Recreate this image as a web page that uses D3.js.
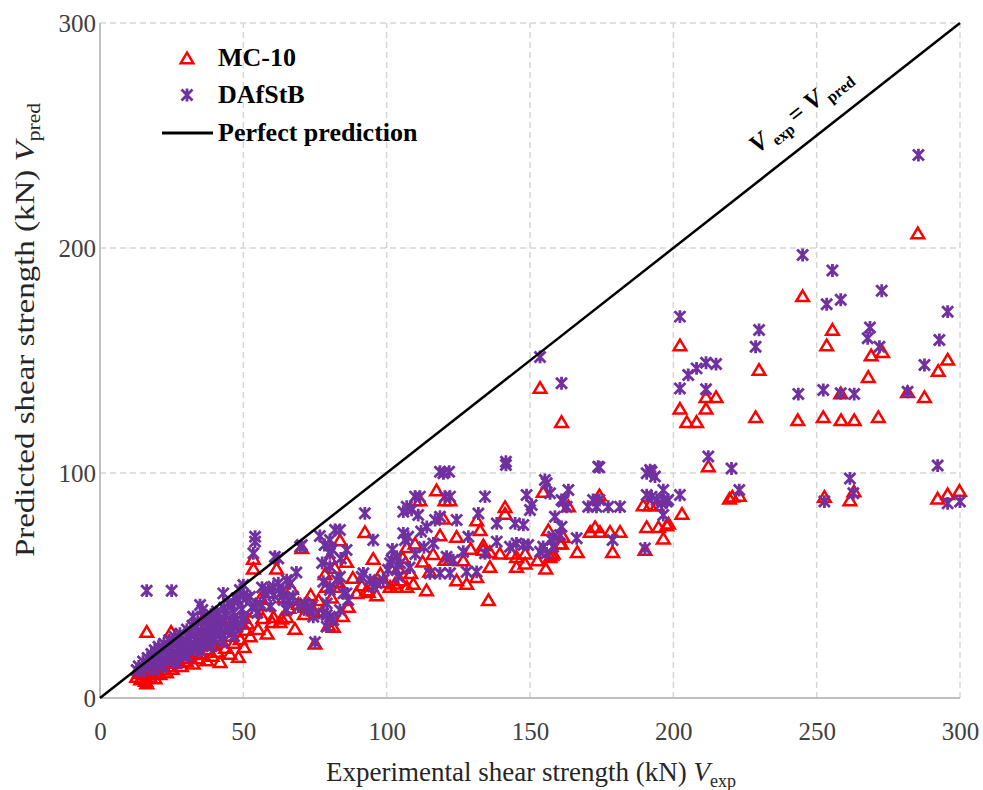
<!DOCTYPE html>
<html>
<head>
<meta charset="utf-8">
<script src="https://cdn.jsdelivr.net/npm/d3@7"></script>
<style>
  body { margin: 0; background: #fff; }
  text { font-family: "Liberation Serif", "Times New Roman", serif; }
</style>
</head>
<body>
<svg id="chart" width="983" height="790"></svg>
<script>
// Shear strength predictions [V_exp, V_pred] in kN
const mc10 = [
  [12.8,9.5],[13.6,11.2],[14.2,8.4],[15.1,10.6],[15.8,7.8],[16.3,6.6],[16.3,29.5],[16.9,12.1],[17.4,9.6],[18.1,11.4],
  [18.6,13.5],[19.2,8.9],[19.8,12.4],[20.3,14.6],[20.9,10.7],[21.5,15.4],[22.1,12.8],[22.6,16.3],[23.2,11.5],[23.8,14.2],
  [24.3,17.5],[24.8,29.5],[25.2,13.1],[25.7,15.8],[26.3,18.6],[26.7,28.0],[27.3,16.1],[27.8,20.2],[28.4,14.3],[28.9,17.9],
  [29.5,21.4],[30.1,16.5],[30.8,24.3],[31.2,19.1],[31.8,22.6],[32.5,15.4],[33.1,30.2],[33.6,20.3],[34.2,17.8],[34.8,23.5],
  [35.4,19.6],[36.0,35.4],[36.6,31.7],[36.3,25.8],[37.2,16.9],[37.8,21.7],[38.5,27.4],[39.1,18.9],[39.8,23.8],[40.4,29.5],
  [41.0,20.6],[41.9,16.1],[42.5,25.2],[43.2,31.3],[43.8,22.4],[44.6,27.8],[45.3,19.7],[46.0,33.5],[46.7,24.6],[47.4,29.8],
  [48.3,18.4],[48.9,26.3],[49.6,35.8],[50.3,22.7],[50.9,30.4],
  [51.5,33.2],[52.4,27.5],[53.5,62.0],[53.5,57.6],[54.2,38.5],[55.1,30.8],[55.9,44.2],[56.8,35.6],[57.6,41.3],[58.3,28.7],
  [59.2,47.1],[60.1,33.9],[60.5,36.1],[61.6,57.6],[62.8,33.9],[63.4,35.4],[64.2,44.8],[65.1,36.1],[65.9,40.2],[66.8,48.6],
  [68.0,30.9],[69.2,42.0],[70.4,66.7],[71.3,37.4],[72.1,40.6],[72.7,42.0],[73.5,45.9],[74.4,39.1],[75.0,24.3],[76.2,43.6],
  [77.4,38.2],[78.5,55.2],[79.0,49.5],[79.7,32.4],[80.2,62.0],[80.8,44.7],[81.4,31.7],[81.9,58.0],[83.1,51.8],[83.7,70.2],
  [83.7,49.5],[84.6,36.5],[86.0,60.6],[86.6,40.6],[88.2,53.5],[89.5,46.8],[91.3,50.2],[92.4,73.9],[93.0,48.0],[93.6,47.2],
  [95.3,62.0],[96.5,45.8],[97.8,55.3],[99.2,51.6],
  [101.2,49.5],[102.9,51.0],[103.5,49.5],[104.1,57.8],[104.7,52.4],[105.6,62.4],[107.0,67.2],[107.0,49.5],[108.4,55.6],[109.3,50.9],
  [109.9,68.7],[109.9,88.0],[111.6,88.0],[112.5,60.7],[113.9,48.0],[115.0,56.3],[116.2,64.1],[117.4,92.4],[118.6,72.4],[119.8,79.9],
  [120.3,88.0],[120.3,61.5],[122.1,61.5],[122.1,88.0],[124.4,71.7],[124.4,52.4],[126.7,61.3],[127.9,50.9],[129.3,66.4],[131.4,79.1],
  [131.4,53.9],[132.6,74.7],[133.7,68.0],[133.7,66.0],[135.5,43.6],[136.0,65.0],[136.0,58.4],[139.5,64.3],[141.3,85.0],[141.3,82.0],
  [143.6,64.3],[145.3,62.8],[145.3,58.4],[148.3,64.3],[148.3,59.9],
  [152.6,61.3],[153.5,138.0],[154.6,91.7],[155.5,57.6],[156.4,74.7],[157.0,62.8],[157.6,63.6],[158.1,64.3],[160.5,68.7],[161.0,122.8],
  [161.0,68.7],[161.6,71.7],[163.4,85.3],[166.5,65.0],[171.0,74.0],[172.7,76.1],[174.2,90.2],[174.4,74.0],[177.9,74.0],[178.8,65.0],
  [181.4,74.0],[189.5,85.8],[190.1,66.0],[190.7,76.1],[191.9,85.8],[194.2,85.8],[194.8,76.1],[196.5,71.0],[197.7,76.9],[198.3,77.6],
  [202.3,156.9],[202.3,128.7],[203.0,82.0],[204.7,122.8],[208.1,122.8],[211.4,133.9],[214.9,133.9],[211.4,128.7],[212.2,103.1],[219.6,88.7],
  [220.6,89.6],[223.0,90.0],[228.7,125.0],[229.9,146.0],[243.4,123.6],[245.1,178.7],[252.3,125.0],[252.7,89.5],[253.5,156.9],[255.5,163.8],
  [258.4,135.5],[258.5,123.6],[261.6,88.0],[263.0,92.0],[263.1,123.6],[268.0,142.8],[269.0,152.4],[271.5,125.0],[273.0,153.9],[281.7,136.1],
  [285.3,206.7],[287.6,133.9],[292.2,88.8],[292.4,145.5],[295.7,150.5],[295.7,90.7],[299.8,92.2]
];

const dafstb = [
  [12.8,12.4],[13.5,14.1],[14.2,11.8],[15.0,16.2],[15.6,13.4],[16.3,47.7],[16.6,17.8],[17.2,15.1],[17.9,19.6],[18.5,16.9],
  [19.1,21.2],[19.7,18.3],[20.4,22.8],[21.0,19.5],[21.6,17.2],[22.3,24.1],[22.9,21.0],[23.5,18.6],[24.1,25.7],[24.7,22.4],
  [25.0,47.7],[25.4,20.1],[26.0,27.2],[26.6,23.8],[27.2,21.3],[27.9,28.6],[28.5,25.1],[29.1,22.6],[29.7,21.3],[30.3,30.4],
  [30.9,26.7],[31.5,23.9],[32.2,32.1],[32.5,36.1],[32.8,28.2],[33.5,25.4],[34.1,33.6],[34.9,41.3],[35.3,29.8],[35.7,39.1],
  [36.0,26.9],[36.7,35.2],[37.4,31.4],[38.0,28.3],[38.7,37.0],[39.4,33.1],[40.1,29.6],[40.8,38.5],[41.5,34.7],[42.2,31.0],
  [43.0,46.5],[43.3,40.1],[44.0,36.3],[44.8,42.0],[45.1,32.7],[45.9,41.6],[46.6,37.9],[47.3,34.2],[47.7,44.3],[48.1,43.0],
  [48.8,48.0],[49.5,39.4],[50.0,50.2],[50.0,45.8],[50.2,35.5],
  [18.8,12.5],[20.6,14.8],[22.0,13.9],[23.9,16.2],[25.8,17.4],[26.9,15.5],[27.5,18.6],[29.3,19.8],[30.5,18.7],[31.0,21.5],
  [32.9,22.1],[34.6,24.0],[35.0,21.0],[36.4,23.4],[38.3,25.6],[39.0,23.0],[40.0,26.2],[41.8,27.9],[42.9,25.0],[43.6,29.5],
  [45.6,30.8],[46.8,27.5],[47.9,31.6],[49.2,33.0],
  [51.1,44.6],[52.3,45.0],[53.0,40.2],[53.5,64.3],[54.1,71.7],[54.1,69.5],[54.8,37.8],[55.8,42.0],[56.5,49.1],[57.6,46.5],
  [58.7,48.0],[59.5,40.8],[60.5,49.5],[60.5,45.8],[61.0,62.8],[62.2,51.0],[62.2,62.0],[62.8,46.5],[63.9,48.0],[64.0,43.6],
  [65.1,52.4],[65.1,39.1],[65.7,43.6],[66.3,50.9],[67.4,45.0],[68.5,55.8],[69.2,40.6],[69.8,67.2],[70.4,68.0],[71.5,42.0],
  [72.7,39.1],[73.8,40.6],[74.4,36.1],[75.0,24.8],[76.7,72.0],[77.5,60.0],[77.9,51.7],[77.9,37.6],[78.3,68.0],[79.1,42.0],
  [79.1,36.9],[79.1,31.7],[80.2,70.2],[80.2,64.3],[80.2,58.4],[80.2,49.5],[80.2,48.0],[80.2,36.1],[81.0,66.0],[81.4,34.7],
  [82.0,74.7],[82.6,52.4],[83.7,74.7],[83.7,53.9],[83.7,39.1],[84.0,62.0],[84.9,46.5],[86.0,65.8],[86.0,46.5],[86.6,43.6],
  [91.3,53.9],[91.9,55.4],[92.4,82.1],[94.2,52.4],[95.3,70.2],[95.3,49.5],[96.5,51.0],[98.8,52.4],
  [100.5,57.0],[101.2,59.9],[101.7,61.3],[102.0,66.0],[103.5,62.8],[103.5,56.9],[104.0,54.0],[104.7,59.9],[105.8,82.8],[105.8,73.2],
  [106.4,70.2],[107.0,85.0],[107.5,71.7],[108.0,58.0],[108.7,83.6],[109.9,89.5],[110.0,64.0],[111.0,81.3],[111.6,89.5],[112.0,74.0],
  [113.0,67.0],[114.0,76.0],[115.1,55.4],[116.3,68.7],[116.9,79.1],[118.6,100.6],[118.6,80.6],[118.6,55.4],[119.8,99.9],[120.3,89.5],
  [120.9,62.8],[121.8,100.6],[122.1,89.5],[122.1,55.4],[123.2,61.3],[124.4,79.1],[126.7,65.0],[127.9,56.1],[128.5,71.7],[131.4,56.1],
  [132.0,82.0],[134.3,89.5],[134.3,64.3],[138.4,77.6],[138.4,69.5],[141.6,105.0],[141.6,103.6],[143.0,67.2],[144.8,77.6],[145.3,68.7],
  [147.7,76.9],[147.7,68.0],[148.8,90.2],[149.4,68.0],
  [150.0,83.6],[150.6,85.8],[153.5,151.6],[153.5,65.0],[154.6,67.2],[155.2,96.9],[155.8,95.4],[155.8,64.3],[157.0,91.0],[157.6,70.2],
  [158.1,71.7],[158.1,67.2],[158.7,80.6],[160.5,72.4],[161.0,139.9],[161.0,88.0],[161.0,76.1],[161.6,87.3],[162.8,85.0],[163.4,92.4],
  [166.3,71.0],[170.3,85.0],[172.0,88.0],[173.2,85.0],[173.8,102.8],[174.2,102.5],[174.2,88.0],[177.3,85.0],[178.8,70.2],[181.4,85.0],
  [190.1,66.5],[190.7,90.2],[190.7,99.9],[191.9,101.3],[192.4,89.5],[192.4,100.6],[193.6,98.4],[194.2,88.0],[195.9,86.5],[196.5,92.4],
  [196.5,81.3],[197.7,87.3],[198.2,88.0],
  [202.3,169.5],[202.3,137.6],[202.3,90.2],[205.2,143.6],[208.1,146.5],[211.4,149.0],[214.9,148.4],[211.4,137.2],[212.2,107.3],[220.3,102.0],
  [223.0,92.4],[228.7,156.1],[229.9,163.6],[243.6,135.1],[245.1,196.9],[252.3,136.9],[252.7,87.3],[253.5,175.0],[255.5,190.0],[258.4,177.0],
  [258.4,135.4],[261.6,97.6],[262.8,91.0],[263.1,135.1],[267.8,159.9],[268.6,164.7],[271.9,156.1],[272.7,181.0],[281.7,136.1],[285.5,241.3],
  [287.6,148.0],[292.2,103.3],[292.8,159.1],[295.7,171.7],[295.7,86.5],[300.0,87.3]
];

const xTicks = [0, 50, 100, 150, 200, 250, 300];
const yTicks = [0, 100, 200, 300];
const seriesNames = ["MC-10", "DAfStB", "Perfect prediction"];

const RED = "#ff0000";
const PURPLE = "#7030a0";
const GRID = "#d6d6d6";
const AXIS = "#bfbfbf";

const svg = d3.select("#chart");

const x = d3.scaleLinear().domain([0, 300]).range([100, 960]);
const y = d3.scaleLinear().domain([0, 300]).range([698, 23]);

// dashed gridlines
svg.append("g")
  .selectAll("line")
  .data(xTicks.filter(d => d > 0))
  .join("line")
  .attr("x1", d => x(d)).attr("x2", d => x(d))
  .attr("y1", y(0)).attr("y2", y(300))
  .attr("stroke", GRID).attr("stroke-width", 1.5)
  .attr("stroke-dasharray", "6,4");

svg.append("g")
  .selectAll("line")
  .data(yTicks.filter(d => d > 0))
  .join("line")
  .attr("x1", x(0)).attr("x2", x(300))
  .attr("y1", d => y(d)).attr("y2", d => y(d))
  .attr("stroke", GRID).attr("stroke-width", 1.5)
  .attr("stroke-dasharray", "6,4");

// solid axis lines
svg.append("line")
  .attr("x1", x(0)).attr("x2", x(0)).attr("y1", y(0)).attr("y2", y(300))
  .attr("stroke", AXIS).attr("stroke-width", 2);
svg.append("line")
  .attr("x1", x(0)).attr("x2", x(300)).attr("y1", y(0)).attr("y2", y(0))
  .attr("stroke", AXIS).attr("stroke-width", 2);

// tick labels
const xAxis = svg.append("g")
  .attr("transform", `translate(0,${y(0)})`)
  .call(d3.axisBottom(x).tickValues(xTicks).tickSize(0).tickPadding(24).tickFormat(d3.format("d")));
const yAxis = svg.append("g")
  .attr("transform", `translate(${x(0)},0)`)
  .call(d3.axisLeft(y).tickValues(yTicks).tickSize(0).tickPadding(4).tickFormat(d3.format("d")));
[xAxis, yAxis].forEach(g => {
  g.select(".domain").remove();
  g.selectAll("text")
    .attr("font-family", "Liberation Serif, Times New Roman, serif")
    .attr("font-size", 25)
    .attr("fill", "#404040");
});

// marker shapes
const triPath = "M0,-5.4L6.3,5.2L-6.3,5.2Z";
const starPath = "M0,-6.4V6.4M-5.5,-5.5L5.5,5.5M-5.5,5.5L5.5,-5.5";

// MC-10 predictions
svg.append("g")
  .selectAll("path")
  .data(mc10)
  .join("path")
  .attr("d", triPath)
  .attr("transform", d => `translate(${x(d[0])},${y(d[1])})`)
  .attr("fill", "none")
  .attr("stroke", RED)
  .attr("stroke-width", 2.5);

// DAfStB predictions
svg.append("g")
  .selectAll("path")
  .data(dafstb)
  .join("path")
  .attr("d", starPath)
  .attr("transform", d => `translate(${x(d[0])},${y(d[1])})`)
  .attr("fill", "none")
  .attr("stroke", PURPLE)
  .attr("stroke-width", 2.8);

// line of perfect prediction
svg.append("line")
  .attr("x1", x(0)).attr("y1", y(0))
  .attr("x2", x(300)).attr("y2", y(300))
  .attr("stroke", "#000").attr("stroke-width", 2.5);

// label along the diagonal
const angle = Math.atan2(y(300) - y(0), x(300) - x(0)) * 180 / Math.PI;
const lblAt = 234;
const diagLabel = svg.append("text")
  .attr("transform", `translate(${x(lblAt)},${y(lblAt)}) rotate(${angle})`)
  .attr("x", 0).attr("y", -22)
  .attr("font-size", 25)
  .attr("font-weight", "bold")
  .attr("fill", "#000");
diagLabel.append("tspan").attr("font-style", "italic").text("V");
diagLabel.append("tspan").attr("font-size", 16).attr("dy", 6).text(" exp ");
diagLabel.append("tspan").attr("dy", -6).text("= ");
diagLabel.append("tspan").attr("font-style", "italic").text("V");
diagLabel.append("tspan").attr("font-size", 16).attr("dy", 6).text(" pred");

// axis titles
const xTitle = svg.append("text")
  .attr("x", 531).attr("y", 781)
  .attr("text-anchor", "middle")
  .attr("font-size", 27)
  .attr("fill", "#262626");
xTitle.append("tspan").text("Experimental shear strength (kN) ");
xTitle.append("tspan").attr("font-style", "italic").text("V");
xTitle.append("tspan").attr("font-size", 18).attr("dy", 6).text("exp");

// y title: slightly elongated along its reading direction
const yTitle = svg.append("text")
  .attr("transform", "translate(34,330) rotate(-90) scale(1.2,1)")
  .attr("text-anchor", "middle")
  .attr("font-size", 27.5)
  .attr("fill", "#262626");
yTitle.append("tspan").text("Predicted shear strength (kN) ");
yTitle.append("tspan").attr("font-style", "italic").text("V");
yTitle.append("tspan").attr("font-size", 18).attr("dy", 6).text("pred");

// legend
const legend = svg.append("g");
const rowY = [58, 95, 133];
legend.append("path").attr("d", triPath)
  .attr("transform", `translate(187,${rowY[0]})`)
  .attr("fill", "none").attr("stroke", RED).attr("stroke-width", 2.5);
legend.append("path").attr("d", starPath)
  .attr("transform", `translate(187,${rowY[1]})`)
  .attr("fill", "none").attr("stroke", PURPLE).attr("stroke-width", 2.8);
legend.append("line")
  .attr("x1", 162).attr("x2", 213).attr("y1", rowY[2]).attr("y2", rowY[2])
  .attr("stroke", "#000").attr("stroke-width", 3);
legend.selectAll("text.lg")
  .data(seriesNames)
  .join("text")
  .attr("class", "lg")
  .attr("x", 218)
  .attr("y", (d, i) => rowY[i] + 8)
  .attr("font-size", 26)
  .attr("font-weight", "bold")
  .attr("fill", "#000")
  .text(d => d);
</script>
</body>
</html>
